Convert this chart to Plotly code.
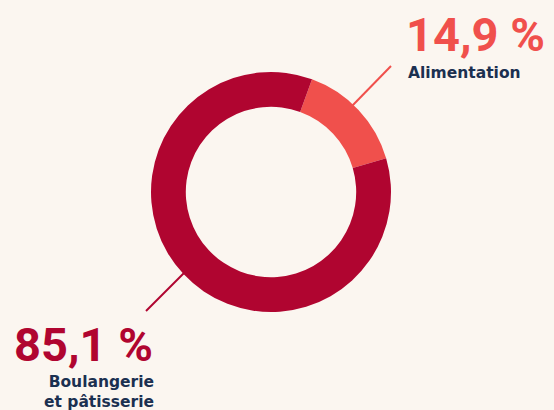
import plotly.graph_objects as go

labels = ["Alimentation", "Boulangerie et pâtisserie"]
values = [14.9, 85.1]
value_texts = ["14,9 %", "85,1 %"]
colors = ["#F0504C", "#B00530"]

W, H = 554, 410
BG = "#FBF6F0"
NAVY = "#1B3050"

def px(x):
    return x / W

def py(y):
    return 1 - y / H

fig = go.Figure()
fig.add_trace(go.Pie(
    labels=labels, values=values, sort=False, direction="clockwise",
    rotation=20, hole=0.71, textinfo="none", hoverinfo="label+percent",
    marker=dict(colors=colors, line=dict(width=0)),
    domain=dict(x=[px(151), px(391)], y=[py(312), py(72)]),
    showlegend=False,
))

# leader lines
fig.add_shape(type="line", xref="paper", yref="paper", layer="below",
              x0=px(391), y0=py(66), x1=px(352), y1=py(106),
              line=dict(color=colors[0], width=2))
fig.add_shape(type="line", xref="paper", yref="paper", layer="below",
              x0=px(146), y0=py(311), x1=px(188), y1=py(269),
              line=dict(color=colors[1], width=2))

big_font = dict(family="Roboto", size=47, weight=700)
small_font = dict(family="DejaVu Sans", size=15.5, weight=700, color=NAVY)

fig.add_annotation(text=value_texts[0], xref="paper", yref="paper",
                   x=px(404), y=py(35), xanchor="left", yanchor="middle",
                   showarrow=False, font=dict(**big_font, color=colors[0]))
fig.add_annotation(text=labels[0], xref="paper", yref="paper",
                   x=px(406), y=py(73), xanchor="left", yanchor="middle",
                   showarrow=False, font=small_font)
fig.add_annotation(text=value_texts[1], xref="paper", yref="paper",
                   x=px(155), y=py(344), xanchor="right", yanchor="middle",
                   showarrow=False, font=dict(**big_font, color=colors[1]))
fig.add_annotation(text="Boulangerie<br>et pâtisserie", xref="paper", yref="paper",
                   x=px(156), y=py(392), xanchor="right", yanchor="middle",
                   align="right", showarrow=False, font=small_font)

fig.update_layout(width=W, height=H, margin=dict(l=0, r=0, t=0, b=0),
                  paper_bgcolor=BG, plot_bgcolor=BG)
fig.write_html("out.html", config={"displayModeBar": False},
               post_script="document.body.style.margin='0';document.body.style.background='%s';" % BG)
